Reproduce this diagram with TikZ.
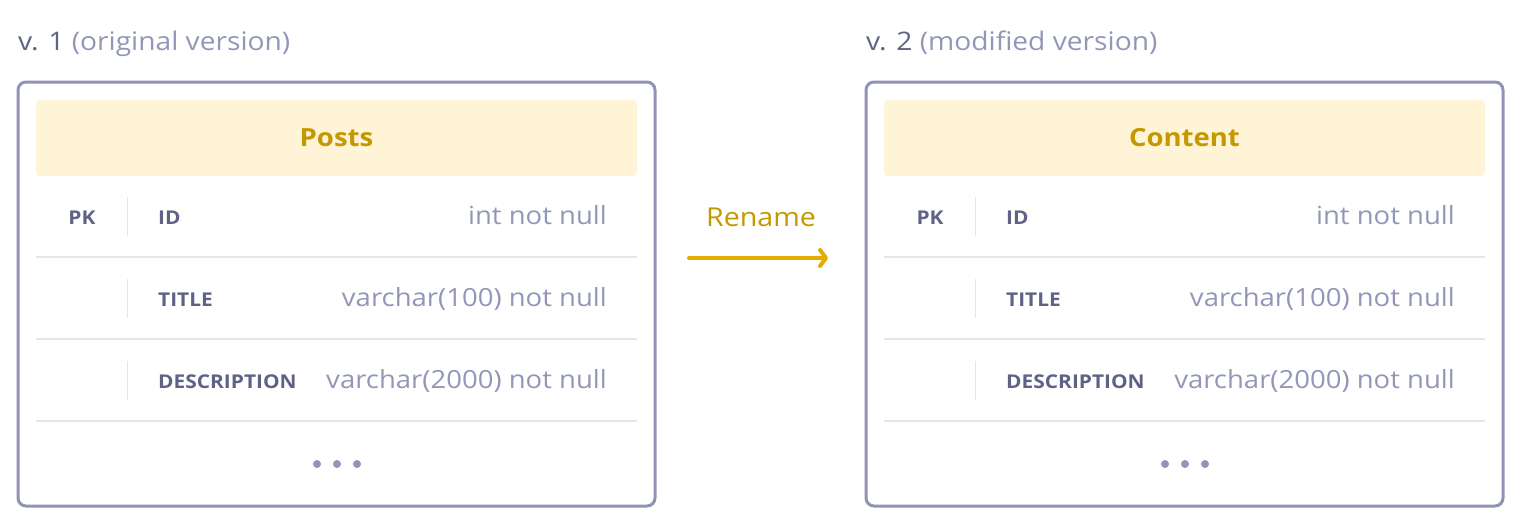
\documentclass[tikz,border=0pt]{standalone}
\usepackage{fontspec}
\setmainfont{Open Sans}[FakeStretch=1.1]
\usetikzlibrary{arrows.meta}
\definecolor{framec}{RGB}{144,148,180}
\definecolor{headfill}{RGB}{255,244,214}
\definecolor{headtext}{RGB}{196,152,0}
\definecolor{arrowc}{RGB}{229,172,0}
\definecolor{fieldc}{RGB}{94,99,133}
\definecolor{typec}{RGB}{146,150,183}
\definecolor{sepc}{RGB}{228,230,238}
\tikzset{
  tableframe/.style={draw=framec, line width=3pt, rounded corners=8pt, minimum width=637pt, minimum height=424pt, inner sep=0pt},
  headbox/.style={fill=headfill, rounded corners=4pt, minimum width=601pt, minimum height=76pt, inner sep=0pt, text=headtext, font=\fontsize{25}{29}\selectfont\bfseries},
  fieldname/.style={anchor=base west, inner sep=0pt, text=fieldc, font=\fontsize{19}{23}\selectfont\bfseries},
  pkname/.style={anchor=base, inner sep=0pt, text=fieldc, font=\fontsize{19}{23}\selectfont\bfseries},
  typename/.style={anchor=base east, inner sep=0pt, text=typec, font=\fontsize{25}{29}\selectfont},
  rowsep/.style={draw=sepc, line width=1.5pt},
  dotnode/.style={circle, fill=typec, minimum size=8pt, inner sep=0pt},
  heading/.style={anchor=base west, inner sep=0pt, font=\fontsize{25.6}{30}\selectfont},
  renamearrow/.style={draw=arrowc, line width=4pt, line cap=round, -{Straight Barb[length=6pt,width=16pt,line cap=round,round]}},
}
\newcommand\dbtable[5]{%
  \begin{scope}[xshift=#1]
    \node[heading] (#2h) at (18,50) {{\color{fieldc}v. #3} {\color{typec}(#4)}};
    \node[tableframe] (#2f) at (336.5,294) {};
    \node[headbox] (#2t) at (336.5,138) {#5};
    \node[pkname] (#2pk) at (82,224) {PK};
    \node[fieldname] (#2n1) at (158,224) {ID};
    \node[typename] (#2y1) at (607,224) {int not null};
    \node[fieldname] (#2n2) at (158,306) {TITLE};
    \node[typename] (#2y2) at (607,306) {varchar(100) not null};
    \node[fieldname] (#2n3) at (158,388) {DESCRIPTION};
    \node[typename] (#2y3) at (607,388) {varchar(2000) not null};
    \draw[rowsep] (127.5,197) -- (127.5,236);
    \draw[rowsep] (127.5,279) -- (127.5,318);
    \draw[rowsep] (127.5,361) -- (127.5,400);
    \draw[rowsep] (36,257) -- (637,257);
    \draw[rowsep] (36,339) -- (637,339);
    \draw[rowsep] (36,421) -- (637,421);
    \node[dotnode] (#2d1) at (317,464) {};
    \node[dotnode] (#2d2) at (337,464) {};
    \node[dotnode] (#2d3) at (357,464) {};
  \end{scope}}
\begin{document}
\begin{tikzpicture}[x=1pt,y=-1pt]
  \useasboundingbox (0,0) rectangle (1520,528);
  \dbtable{0pt}{a}{1}{original version}{Posts}
  \dbtable{848pt}{b}{2}{modified version}{Content}
  \coordinate (arrA) at (689,258);
  \coordinate (arrB) at (828,258);
  \draw[renamearrow] (arrA) -- (arrB);
  \node[anchor=base, inner sep=0pt, text=headtext, font=\fontsize{26}{30}\selectfont] (rn) at (761,226) {Rename};
\end{tikzpicture}
\end{document}
